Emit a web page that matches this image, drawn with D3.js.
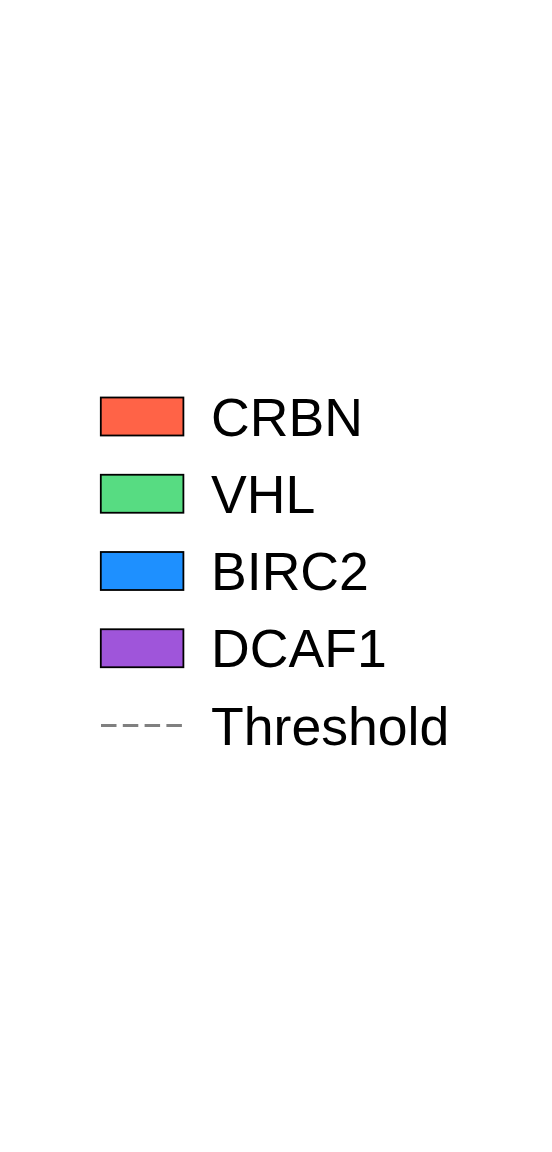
<!DOCTYPE html>
<html><head><meta charset="utf-8">
<script src="https://cdn.jsdelivr.net/npm/d3@7"></script>
<style>html,body{margin:0;padding:0;background:#fff;}</style>
</head><body>
<svg id="c" width="552" height="1152"></svg>
<script>
const labels = ["CRBN", "VHL", "BIRC2", "DCAF1", "Threshold"];
const kinds = ["patch", "patch", "patch", "patch", "line"];
const colors = ["#FF6347", "#57DC82", "#1E90FF", "#9F55DA", "#808080"];

const svg = d3.select("#c");
const y = d3.scalePoint().domain(labels).range([416.5, 725.5]);
const g = svg.append("g");
const rows = g.selectAll("g.row").data(labels).join("g").attr("class","row")
  .attr("transform", d => `translate(0,${y(d)})`);

rows.each(function(d, i){
  const r = d3.select(this);
  if (kinds[i] === "patch") {
    r.append("rect").attr("x", 100.8).attr("y", -19).attr("width", 82.6).attr("height", 38)
      .attr("fill", colors[i]).attr("stroke", "#000").attr("stroke-width", 1.8);
  } else {
    r.append("line").attr("x1", 101).attr("x2", 184).attr("y1", 0).attr("y2", 0)
      .attr("stroke", colors[i]).attr("stroke-width", 3.2).attr("stroke-dasharray", "15.5,6.3");
  }
  r.append("text").attr("x", 211).attr("y", 19).text(d)
    .attr("font-family", "'Liberation Sans', Arial, sans-serif").attr("font-size", 53.6).attr("fill", "#000");
});
</script>
</body></html>
